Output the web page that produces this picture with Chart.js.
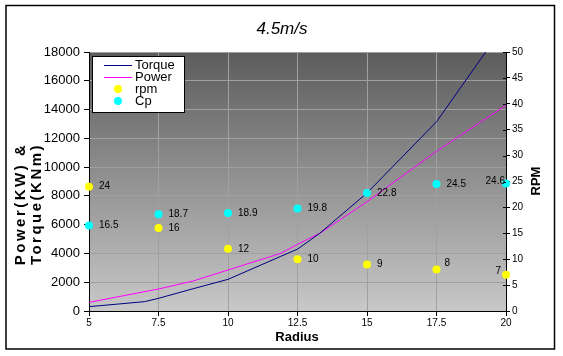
<!DOCTYPE html>
<html><head><meta charset="utf-8">
<script src="https://cdn.jsdelivr.net/npm/chart.js@4"></script>
<style>html,body{margin:0;padding:0;background:#fff;}canvas{display:block;}</style>
</head><body>
<canvas id="c" width="563" height="356"></canvas>
<script>
const chartTitle = '4.5m/s';
const xTitle = 'Radius';
const yLeftTitle = ['Power(KW) &', 'Torque(KNm)'];
const yRightTitle = 'RPM';
const seriesNames = ['Torque', 'Power', 'rpm', 'Cp'];

const torqueRadius = [5, 7, 7.5, 8.75, 10, 11.9, 12.5, 13.3, 15, 17.5, 20];
const torqueValues = [300, 650, 880, 1550, 2200, 3800, 4300, 5400, 8200, 13150, 20000];
const powerRadius = [5, 7.5, 8.75, 10, 11.9, 12.5, 13.3, 15, 17.5, 20];
const powerValues = [600, 1530, 2085, 2850, 4010, 4640, 5400, 7600, 11100, 14300];
const pointRadii = [5, 7.5, 10, 12.5, 15, 17.5, 20];
const rpmValues = [24, 16, 12, 10, 9, 8, 7];
const cpValues = [16.5, 18.7, 18.9, 19.8, 22.8, 24.5, 24.6];

const FONT = '"Liberation Sans", Arial, sans-serif';
const toXY = (xs, ys) => xs.map((x, i) => ({x: x, y: ys[i]}));

const bgPlugin = {
  id: 'bg',
  beforeDraw(chart) {
    const {ctx, chartArea: a} = chart;
    ctx.save();
    ctx.fillStyle = '#fff';
    ctx.fillRect(0, 0, chart.width, chart.height);
    const g = ctx.createLinearGradient(0, a.top, 0, a.bottom);
    g.addColorStop(0, '#5c5c5c');
    g.addColorStop(1, '#c8c8c8');
    ctx.fillStyle = g;
    ctx.fillRect(a.left, a.top, a.right - a.left, a.bottom - a.top);
    ctx.restore();
  }
};

const decoPlugin = {
  id: 'deco',
  afterDatasetsDraw(chart) {
    const {ctx} = chart;
    const yR = chart.scales.yR;
    ctx.save();
    ctx.strokeStyle = '#000';
    ctx.lineWidth = 1;
    yR.ticks.forEach(t => {
      const y = Math.round(yR.getPixelForValue(t.value)) + 0.5;
      ctx.beginPath();
      ctx.moveTo(yR.left - 3, y);
      ctx.lineTo(yR.left, y);
      ctx.stroke();
    });
    ctx.restore();

    ctx.save();
    ctx.font = '10px ' + FONT;
    ctx.fillStyle = '#000';
    ctx.textBaseline = 'middle';
    [2, 3].forEach(di => {
      const meta = chart.getDatasetMeta(di);
      const ds = chart.data.datasets[di];
      meta.data.forEach((pt, i) => {
        const v = ds.data[i].y;
        const last = i === ds.data.length - 1;
        let dx = 10, dy = 0;
        ctx.textAlign = 'left';
        if (last) {
          ctx.textAlign = 'right';
          dx = di === 2 ? -5 : -1;
          dy = di === 2 ? -3 : -2;
        } else if (di === 2 && i === 5) {
          dx = 8; dy = -6;
        }
        ctx.fillText(String(v), pt.x + dx, pt.y + dy);
      });
    });
    ctx.restore();
  },
  afterDraw(chart) {
    const {ctx} = chart;
    ctx.save();
    const lx = 92.5, ly = 56.5, lw = 92, lh = 56;
    ctx.fillStyle = '#fff';
    ctx.fillRect(lx, ly, lw, lh);
    ctx.strokeStyle = '#000';
    ctx.lineWidth = 1;
    ctx.strokeRect(lx, ly, lw, lh);
    const rows = [65, 77, 89, 101];
    ctx.font = '13px ' + FONT;
    ctx.textBaseline = 'middle';
    ctx.textAlign = 'left';
    chart.data.datasets.forEach((ds, i) => {
      const y = rows[i];
      if (ds.type === 'line') {
        ctx.strokeStyle = ds.borderColor;
        ctx.lineWidth = 1;
        ctx.beginPath();
        ctx.moveTo(104, y + 0.5);
        ctx.lineTo(132, y + 0.5);
        ctx.stroke();
      } else {
        ctx.fillStyle = ds.backgroundColor;
        ctx.beginPath();
        ctx.arc(118, y, 4, 0, Math.PI * 2);
        ctx.fill();
      }
      ctx.fillStyle = '#000';
      ctx.fillText(ds.label, 135, y);
    });

    ctx.font = 'italic 17px ' + FONT;
    ctx.textAlign = 'center';
    ctx.fillText(chartTitle, 282, 29);

    ctx.font = 'bold 13px ' + FONT;
    ctx.fillText(xTitle, 297, 337);

    ctx.save();
    ctx.translate(536, 181);
    ctx.rotate(-Math.PI / 2);
    ctx.fillText(yRightTitle, 0, 0);
    ctx.restore();

    ctx.font = 'bold 15px ' + FONT;
    try { ctx.letterSpacing = '2.5px'; } catch (e) {}
    [21, 37].forEach((x, i) => {
      ctx.save();
      ctx.translate(x, 204);
      ctx.rotate(-Math.PI / 2);
      ctx.fillText(yLeftTitle[i], 0, 0);
      ctx.restore();
    });
    try { ctx.letterSpacing = '0px'; } catch (e) {}

    ctx.strokeStyle = '#000';
    ctx.lineWidth = 1.5;
    ctx.strokeRect(6, 5.5, 548.5, 343.5);
    ctx.restore();
  }
};

new Chart(document.getElementById('c'), {
  data: {
    datasets: [
      {type: 'line', label: seriesNames[0], data: toXY(torqueRadius, torqueValues), yAxisID: 'y',
       borderColor: '#000080', borderWidth: 1, pointRadius: 0, tension: 0, fill: false, order: 3},
      {type: 'line', label: seriesNames[1], data: toXY(powerRadius, powerValues), yAxisID: 'y',
       borderColor: '#ff00ff', borderWidth: 1, pointRadius: 0, tension: 0, fill: false, order: 4},
      {type: 'scatter', label: seriesNames[2], data: toXY(pointRadii, rpmValues), yAxisID: 'yR',
       backgroundColor: '#ffff00', borderWidth: 0, pointRadius: 4, clip: false, order: 2},
      {type: 'scatter', label: seriesNames[3], data: toXY(pointRadii, cpValues), yAxisID: 'yR',
       backgroundColor: '#00ffff', borderWidth: 0, pointRadius: 4, clip: false, order: 1}
    ]
  },
  options: {
    responsive: false,
    animation: false,
    devicePixelRatio: 1,
    layout: {padding: {top: 52, left: 0, right: 0, bottom: 0}},
    plugins: {legend: {display: false}, title: {display: false}, tooltip: {enabled: false}},
    scales: {
      x: {
        type: 'linear', min: 5, max: 20,
        afterFit(s) { s.height = 45; },
        ticks: {stepSize: 2.5, color: '#000', font: {size: 10, family: FONT}, padding: 1, maxRotation: 0,
                callback: v => String(v)},
        grid: {color: '#a0a0a0', tickColor: '#000', tickLength: 5, lineWidth: 1},
        border: {color: '#000', width: 1}
      },
      y: {
        type: 'linear', position: 'left', min: 0, max: 18000,
        afterFit(s) { s.width = 89; },
        ticks: {stepSize: 2000, color: '#000', font: {size: 13, family: FONT}, padding: 4,
                callback: v => String(v)},
        grid: {color: '#a0a0a0', tickColor: '#000', tickLength: 5, lineWidth: 1},
        border: {color: '#000', width: 1}
      },
      yR: {
        type: 'linear', position: 'right', min: 0, max: 50,
        afterFit(s) { s.width = 57; },
        ticks: {stepSize: 5, color: '#000', font: {size: 10, family: FONT}, padding: 2,
                callback: v => String(v)},
        grid: {drawOnChartArea: false, tickColor: '#000', tickLength: 4},
        border: {color: '#000', width: 1}
      }
    }
  },
  plugins: [bgPlugin, decoPlugin]
});
</script>
</body></html>
